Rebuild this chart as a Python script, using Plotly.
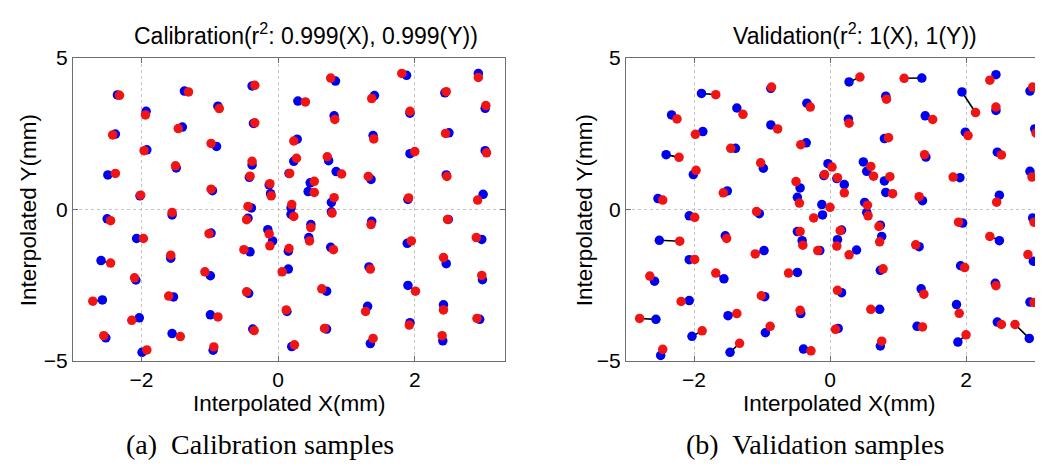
import plotly.graph_objects as go

# ---------------- Calibration data (blue = reference, red = interpolated) ----------------
cal_ref_x = [-2.35, -1.93, -1.37, -0.88, -0.38, -0.36, 0.29, -2.38, -1.92, -1.40, -0.90, -0.38, 0.28,
             -2.49, -1.49, 0.23, -0.42, -2.02, -0.96, -0.13, -0.11, 0.16, 0.47, 0.44, -0.39, 0.19,
             0.84, 1.88, 2.93, 1.41, 0.82, 1.93, 2.44, 3.03, 1.39, 2.50, 0.74, 1.93, 3.03, 0.85, 1.36,
             2.46, 0.78, 1.90, 3.00,
             -2.50, -1.55, -0.44, 0.19, 0.48, 0.45, -2.07, -0.98, -0.15, -0.08, -0.41, 0.15, -2.59,
             -1.57, -0.99, 0.15, -2.08, -2.57, -1.53, -0.43, -2.03, -0.99, 0.13, -2.52, -1.55, -0.37,
             -1.99, -0.95, 0.20,
             0.78, 1.37, 2.49, 0.77, 1.89, 2.98, 1.33, 2.46, 2.99, 0.71, 1.90, 1.31, 2.42, 2.95, 0.71,
             1.93, 1.35, 2.41]
cal_ref_y = [3.78, 3.24, 3.91, 3.41, 4.08, 2.84, 3.58, 2.49, 1.97, 2.72, 2.08, 1.47, 2.32,
             1.14, 1.37, 1.59, 1.06, 0.45, 0.62, 0.81, 0.52, 1.19, 0.88, 0.59, 0.05, 0.05,
             4.24, 4.43, 4.49, 3.76, 3.09, 3.18, 3.85, 3.34, 2.44, 2.53, 1.61, 1.84, 1.94, 1.25, 0.99,
             1.14, 0.23, 0.33, 0.50,
             -0.31, -0.18, -0.29, -0.16, -0.50, -0.93, -0.96, -0.78, -0.67, -1.04, -1.40, -1.38, -1.69,
             -1.61, -2.19, -1.97, -2.33, -2.99, -2.89, -2.77, -3.58, -3.48, -3.37, -4.24, -4.10, -3.95,
             -4.72, -4.65, -4.53,
             -0.08, -0.39, -0.33, -1.25, -1.12, -0.99, -1.90, -1.79, -2.32, -2.70, -2.51, -3.20, -3.15,
             -3.63, -3.95, -3.74, -4.43, -4.34]
cal_est_x = [-2.32, -1.94, -1.31, -0.86, -0.34, -0.34, 0.40, -2.42, -1.96, -1.46, -0.98, -0.38, 0.23,
             -2.38, -1.50, 0.27, -0.41, -2.01, -0.98, -0.12, -0.10, 0.17, 0.53, 0.53, -0.44, 0.20,
             0.77, 1.81, 2.93, 1.37, 0.83, 1.93, 2.46, 3.04, 1.40, 2.45, 0.72, 2.00, 3.05, 0.93, 1.32,
             2.47, 0.82, 1.91, 2.92,
             -2.45, -1.55, -0.46, 0.23, 0.48, 0.46, -1.97, -1.01, -0.13, -0.12, -0.50, 0.16, -2.45,
             -1.57, -1.07, 0.06, -2.10, -2.71, -1.60, -0.46, -2.14, -0.88, 0.12, -2.55, -1.43, -0.35,
             -1.92, -0.94, 0.24,
             0.79, 1.36, 2.48, 0.81, 1.95, 2.90, 1.35, 2.42, 2.98, 0.64, 2.01, 1.28, 2.42, 2.91, 0.68,
             1.92, 1.39, 2.40]
cal_est_y = [3.77, 3.12, 3.88, 3.33, 4.10, 2.86, 3.55, 2.46, 1.94, 2.67, 2.18, 1.59, 2.26,
             1.19, 1.44, 1.69, 1.10, 0.47, 0.67, 0.85, 0.45, 1.19, 0.93, 0.56, 0.10, 0.16,
             4.34, 4.49, 4.36, 3.66, 2.97, 3.24, 3.89, 3.43, 2.33, 2.51, 1.74, 1.91, 1.87, 1.17, 1.09,
             1.09, 0.39, 0.38, 0.31,
             -0.37, -0.10, -0.34, -0.23, -0.60, -1.04, -0.96, -0.80, -0.81, -1.20, -1.33, -1.29, -1.77,
             -1.51, -2.06, -2.06, -2.26, -3.03, -2.86, -2.72, -3.66, -3.55, -3.32, -4.17, -4.20, -4.00,
             -4.64, -4.54, -4.47,
             -0.12, -0.50, -0.33, -1.33, -1.04, -0.93, -1.97, -1.59, -2.18, -2.62, -2.70, -3.37, -3.32,
             -3.60, -3.93, -3.82, -4.26, -4.17]

# ---------------- Validation data ----------------
val_ref_x = [-1.89, -0.87, -2.33, -1.37, -0.34, -1.87, -0.87, -2.41, -1.39, -0.35, -2.01, -0.98, -0.03,
             -0.09, 0.10, -0.44, -0.48, -1.51, -2.53, -0.12,
             0.28, 1.35, 2.44, 1.94, 0.82, 2.94, 2.44, 0.27, 1.40, 0.80, 1.99, 3.01, 1.41, 2.46, 0.49,
             0.54, 0.21, 0.82, 0.80, 1.36, 1.91, 2.94, 2.49, 0.51,
             -1.04, -0.11, -2.07, -2.51, -1.54, -0.48, -0.41, -0.97, -0.15, -2.07, -2.58, -1.56, -0.48,
             -2.07, -0.96, -0.43, -2.56, -1.50, -2.03, -0.95, -2.49, -1.47, -0.39,
             0.54, 0.17, 0.74, 0.11, 0.76, 0.39, 1.31, 1.95, 2.49, 2.98, 2.99, 0.74, 1.92, 2.43, 0.17,
             1.34, 1.86, 2.94, 0.73, 0.12, 1.28, 2.46, 2.93, 1.88, 0.74]
val_ref_y = [3.83, 4.00, 3.12, 3.35, 3.51, 2.57, 2.79, 1.81, 2.02, 2.20, 1.15, 1.36, 1.51,
             1.12, 1.02, 0.71, 0.40, 0.61, 0.36, 0.16,
             4.21, 4.34, 4.45, 3.88, 3.74, 3.91, 3.27, 2.98, 3.09, 2.34, 2.55, 2.66, 1.73, 1.89, 1.57,
             1.26, 0.82, 0.56, 0.94, 0.29, 1.05, 1.26, 0.47, 0.23,
             -0.14, -0.18, -0.21, -1.02, -0.87, -0.73, -1.03, -1.36, -1.36, -1.66, -2.37, -2.29, -2.08,
             -3.01, -2.88, -3.44, -3.63, -3.51, -4.19, -4.07, -4.82, -4.72, -4.61,
             -0.10, -0.68, -0.52, -1.00, -0.89, -1.34, -1.23, -0.45, -1.03, -0.28, -1.71, -2.01, -1.86,
             -2.44, -2.75, -2.62, -3.14, -3.06, -3.30, -3.93, -3.86, -3.72, -4.26, -4.38, -4.51]
val_est_x = [-1.68, -0.86, -2.25, -1.28, -0.29, -1.98, -0.77, -2.22, -1.46, -0.43, -1.97, -1.02, 0.03,
             -0.08, 0.11, -0.50, -0.45, -1.57, -2.46, 0.00,
             0.44, 1.09, 2.35, 2.14, 0.83, 2.98, 2.44, 0.28, 1.51, 0.86, 2.03, 3.03, 1.39, 2.52, 0.60,
             0.64, 0.21, 0.92, 0.88, 1.31, 1.81, 2.97, 2.45, 0.55,
             -1.08, -0.24, -1.99, -2.21, -1.52, -0.44, -0.40, -1.10, -0.18, -1.99, -2.65, -1.68, -0.61,
             -2.19, -1.01, -0.44, -2.80, -1.37, -1.88, -0.88, -2.46, -1.33, -0.28,
             0.56, 0.15, 0.72, 0.10, 0.73, 0.28, 1.26, 1.89, 2.35, 3.00, 2.91, 0.78, 1.98, 2.44, 0.11,
             1.38, 1.90, 3.00, 0.60, 0.08, 1.36, 2.52, 2.72, 2.00, 0.76]
val_est_y = [3.79, 4.04, 2.99, 3.14, 3.38, 2.48, 2.66, 1.72, 2.02, 2.14, 1.29, 1.54, 1.40,
             1.15, 1.05, 0.92, 0.21, 0.55, 0.31, 0.07,
             4.37, 4.33, 4.27, 3.20, 3.64, 4.04, 3.38, 2.85, 2.97, 2.37, 2.44, 2.52, 1.81, 1.80, 1.42,
             1.10, 0.55, 0.52, 1.08, 0.42, 1.07, 1.07, 0.24, 0.14,
             -0.07, -0.28, -0.26, -1.05, -0.96, -0.73, -1.18, -1.47, -1.36, -1.65, -2.20, -2.10, -2.10,
             -3.04, -2.85, -3.33, -3.60, -3.44, -4.01, -3.86, -4.62, -4.42, -4.67,
             -0.21, -0.70, -0.56, -1.21, -1.07, -1.50, -1.17, -0.42, -0.89, -0.42, -1.49, -1.96, -1.92,
             -2.52, -2.67, -2.80, -3.43, -3.07, -3.30, -3.96, -3.88, -3.80, -3.80, -4.14, -4.35]

# ---------------- Text ----------------
titles = ["Calibration(r<sup>2</sup>: 0.999(X), 0.999(Y))", "Validation(r<sup>2</sup>: 1(X), 1(Y))"]
captions = ["(a)  Calibration samples", "(b)  Validation samples"]
x_label = "Interpolated X(mm)"
y_label = "Interpolated Y(mm)"
x_ticks = [-2, 0, 2]
y_ticks = [-5, 0, 5]

W, H = 1043, 467
BLUE = "#0000f0"
RED = "#f01414"
FONT = "Liberation Sans, Arial, sans-serif"


def px(x):
    return x / W


def py(y):
    return 1 - y / H


fig = go.Figure()


def add_panel(rx, ry, ex, ey, xa, ya):
    lx, ly = [], []
    for a, b, c, d in zip(rx, ry, ex, ey):
        lx += [a, c, None]
        ly += [b, d, None]
    fig.add_trace(go.Scatter(x=lx, y=ly, mode="lines", line=dict(color="black", width=1.6),
                             xaxis=xa, yaxis=ya, showlegend=False, hoverinfo="skip"))
    fig.add_trace(go.Scatter(x=rx, y=ry, mode="markers", marker=dict(color=BLUE, size=9.5, line=dict(width=0)),
                             xaxis=xa, yaxis=ya, showlegend=False))
    fig.add_trace(go.Scatter(x=ex, y=ey, mode="markers", marker=dict(color=RED, size=9.5, line=dict(width=0)),
                             xaxis=xa, yaxis=ya, showlegend=False))


add_panel(cal_ref_x, cal_ref_y, cal_est_x, cal_est_y, "x", "y")
add_panel(val_ref_x, val_ref_y, val_est_x, val_est_y, "x2", "y2")

axis_common = dict(showline=True, linecolor="#6e6e6e", linewidth=1.2, mirror="ticks",
                   ticks="inside", ticklen=5, tickcolor="#6e6e6e",
                   showgrid=True, gridcolor="#c4c4c4", griddash="dot", gridwidth=1,
                   zeroline=False, tickfont=dict(family=FONT, size=21, color="black"),
                   fixedrange=True)

ydom = [py(358.5), py(40)]
fig.update_layout(
    width=W, height=H, margin=dict(l=0, r=0, t=0, b=0),
    paper_bgcolor="white", plot_bgcolor="white",
    xaxis=dict(domain=[px(65), px(497)], range=[-3.0, 3.32], tickvals=x_ticks, anchor="y", **axis_common),
    yaxis=dict(domain=ydom, range=[-5, 5], tickvals=y_ticks, anchor="x", **axis_common),
    xaxis2=dict(domain=[px(618), px(1041)], range=[-3.0, 3.22], tickvals=x_ticks, anchor="y2", **axis_common),
    yaxis2=dict(domain=ydom, range=[-5, 5], tickvals=y_ticks, anchor="x2", **axis_common),
)

ann = []
title_cx = [298, 847]
xlab_cx = [281, 831]
ylab_x = [20, 576]
cap_cx = [252, 807]
for i in range(2):
    ann.append(dict(text=titles[i], x=px(title_cx[i]), y=py(15), xref="paper", yref="paper",
                    showarrow=False, xanchor="center", yanchor="middle",
                    font=dict(family=FONT, size=23, color="black")))
    ann.append(dict(text=x_label, x=px(xlab_cx[i]), y=py(403), xref="paper", yref="paper",
                    showarrow=False, xanchor="center", yanchor="middle",
                    font=dict(family=FONT, size=22.5, color="black")))
    ann.append(dict(text=y_label, x=px(ylab_x[i]), y=py(200), xref="paper", yref="paper",
                    showarrow=False, xanchor="center", yanchor="middle", textangle=-90,
                    font=dict(family=FONT, size=22.5, color="black")))
    ann.append(dict(text=captions[i], x=px(cap_cx[i]), y=py(447), xref="paper", yref="paper",
                    showarrow=False, xanchor="center", yanchor="middle",
                    font=dict(family="Liberation Serif, Times New Roman, serif", size=28, color="black")))
fig.update_layout(annotations=ann)

fig.write_html("out.html")
